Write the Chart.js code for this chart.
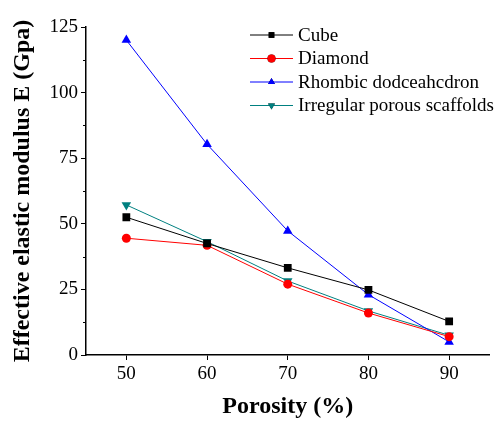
<!DOCTYPE html>
<html lang="en">
<head>
    <meta charset="UTF-8">
    <title>Effective elastic modulus vs porosity</title>
    <script src="https://cdn.jsdelivr.net/npm/chart.js"></script>
    <style>
        * {
            margin: 0;
            padding: 0;
        }

        body {
            background-color: #fff;
        }

        .chart-box {
            width: 495px;
            height: 421px;
            position: relative;
        }
    </style>
</head>
<body>
    <div class="chart-box">
        <canvas id="modulusChart"></canvas>
    </div>

    <script>
        // Data
        const porosity = [50, 60, 70, 80, 90];
        const xTicks = [50, 60, 70, 80, 90];
        const yTicks = [0, 25, 50, 75, 100, 125];
        const seriesNames = ['Cube', 'Diamond', 'Rhombic dodceahcdron', 'Irregular porous scaffolds'];
        const cube = [52.5, 42.5, 33.2, 24.8, 12.8];
        const diamond = [44.5, 41.8, 27.0, 16.0, 7.0];
        const rhombic = [120, 80.3, 47.3, 23.0, 5.0];
        const irregular = [57.2, 43.2, 28.2, 16.8, 7.5];

        const serif = '"Liberation Serif", "Times New Roman", serif';

        function toPoints(values) {
            return porosity.map((p, i) => ({ x: p, y: values[i] }));
        }

        function makeSet(label, values, color, style, rotation) {
            return {
                label: label,
                data: toPoints(values),
                borderColor: color,
                backgroundColor: color,
                borderWidth: 1,
                pointStyle: style,
                rotation: rotation || 0,
                pointRadius: style === 'circle' ? 4.5 : 5.5,
                pointBorderWidth: 0,
                tension: 0
            };
        }

        // Minor ticks on the y axis + legend in the top right corner
        const extras = {
            id: 'extras',
            afterDraw(chart) {
                const ctx = chart.ctx;
                const y = chart.scales.y;
                const left = chart.chartArea.left;
                ctx.save();
                ctx.strokeStyle = '#000';
                ctx.lineWidth = 1;
                for (let i = 0; i < yTicks.length - 1; i++) {
                    const py = Math.round(y.getPixelForValue((yTicks[i] + yTicks[i + 1]) / 2)) + 0.5;
                    ctx.beginPath();
                    ctx.moveTo(left - 3, py);
                    ctx.lineTo(left, py);
                    ctx.stroke();
                }

                // legend
                const lx = 250;
                const ly = 35;
                const rowH = 23.5;
                ctx.font = '19px ' + serif;
                ctx.textBaseline = 'middle';
                chart.data.datasets.forEach((ds, i) => {
                    const yy = ly + i * rowH;
                    ctx.strokeStyle = ds.borderColor;
                    ctx.lineWidth = 1;
                    ctx.beginPath();
                    ctx.moveTo(lx, yy);
                    ctx.lineTo(lx + 43, yy);
                    ctx.stroke();
                    Chart.helpers.drawPoint(ctx, {
                        pointStyle: ds.pointStyle,
                        rotation: ds.rotation,
                        radius: 4,
                        borderWidth: 0
                    }, lx + 21.5, yy);
                    ctx.fillStyle = ds.borderColor;
                    ctx.fill();
                    ctx.fillStyle = '#000';
                    ctx.fillText(ds.label, lx + 48, yy + 1);
                });
                ctx.restore();
            }
        };

        const ctx = document.getElementById('modulusChart').getContext('2d');
        const modulusChart = new Chart(ctx, {
            type: 'line',
            data: {
                datasets: [
                    makeSet(seriesNames[0], cube, '#000000', 'rect'),
                    makeSet(seriesNames[1], diamond, '#ff0000', 'circle'),
                    makeSet(seriesNames[2], rhombic, '#0000ff', 'triangle'),
                    makeSet(seriesNames[3], irregular, '#008080', 'triangle', 180)
                ]
            },
            options: {
                responsive: true,
                maintainAspectRatio: false,
                animation: false,
                layout: {
                    padding: { top: 27, right: 4, left: 8, bottom: 0 }
                },
                plugins: {
                    legend: { display: false },
                    tooltip: { enabled: false }
                },
                scales: {
                    x: {
                        type: 'linear',
                        min: 45,
                        max: 95,
                        afterBuildTicks: (axis) => {
                            axis.ticks = xTicks.map(v => ({ value: v }));
                        },
                        afterFit: (axis) => {
                            axis.height = 66;
                        },
                        border: { display: true, color: '#000', width: 1.5 },
                        grid: { drawOnChartArea: false, drawTicks: true, tickLength: 5, color: '#000' },
                        ticks: {
                            color: '#000',
                            padding: 3,
                            maxRotation: 0,
                            font: { family: serif, size: 19 }
                        },
                        title: {
                            display: true,
                            text: 'Porosity (%)',
                            color: '#000',
                            padding: { top: 11, bottom: 0 },
                            font: { family: serif, size: 24, weight: 'bold' }
                        }
                    },
                    y: {
                        min: 0,
                        max: 125,
                        afterBuildTicks: (axis) => {
                            axis.ticks = yTicks.map(v => ({ value: v }));
                        },
                        afterFit: (axis) => {
                            axis.width = 78;
                        },
                        border: { display: true, color: '#000', width: 1.5 },
                        grid: { drawOnChartArea: false, drawTicks: true, tickLength: 5, color: '#000' },
                        ticks: {
                            color: '#000',
                            padding: 3,
                            font: { family: serif, size: 19 }
                        },
                        title: {
                            display: true,
                            text: 'Effective elastic modulus E (Gpa)',
                            color: '#000',
                            padding: { top: 0, bottom: 2 },
                            font: { family: serif, size: 24, weight: 'bold' }
                        }
                    }
                }
            },
            plugins: [extras]
        });
    </script>
</body>
</html>
